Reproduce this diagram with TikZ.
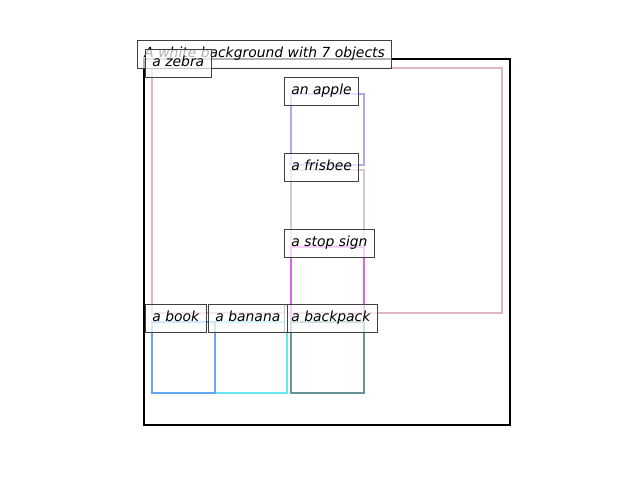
\documentclass[tikz,border=0pt]{standalone}
\usepackage{fontspec}
\setmainfont{DejaVu Sans}
\definecolor{zebracol}{HTML}{DFB6C3}
\definecolor{applecol}{HTML}{AAAAF8}
\definecolor{frisbeecol}{HTML}{D9C9C2}
\definecolor{stopcol}{HTML}{D866E8}
\definecolor{bookcol}{HTML}{66A8F8}
\definecolor{bananacol}{HTML}{6AE8EE}
\definecolor{backpackcol}{HTML}{669499}
\tikzset{
    tag/.style={font=\itshape, fill=white, fill opacity=0.7, text opacity=1,
        draw=black!75, line width=0.7pt, inner sep=5pt,
        text height=7.6pt, text depth=2.4pt, anchor=north west},
    objbox/.style={line width=1.9pt}
}
\begin{document}
\begin{tikzpicture}[x=0.72pt, y=-0.72pt]

        \useasboundingbox (0, 0) rectangle (640, 480);

        \draw [line width=1.7pt] (144, 59) rectangle (510, 425);

        \draw [objbox, zebracol] (152, 68) rectangle (502, 313);
        \draw [objbox, applecol] (291, 94) rectangle (364, 165);
        \draw [objbox, frisbeecol] (291, 170) rectangle (364, 246);
        \draw [objbox, stopcol] (291, 247) rectangle (364, 322);
        \draw [objbox, bananacol] (215, 322) rectangle (287, 393);
        \draw [objbox, bookcol] (152, 322) rectangle (215, 393);
        \draw [objbox, backpackcol] (291, 322) rectangle (364, 393);

        \node (title) at (137, 40) [tag] {A white background with 7 objects};

        \node (zebra) at (145, 49) [tag] {a zebra};
        \node (apple) at (284, 77) [tag] {an apple};
        \node (frisbee) at (284, 153) [tag] {a frisbee};
        \node (stop) at (284, 229) [tag] {a stop sign};
        \node (backpack) at (284, 304) [tag] {a backpack};
        \node (banana) at (208, 304) [tag] {a banana};
        \node (book) at (145, 304) [tag] {a book};

    \end{tikzpicture}
\end{document}
